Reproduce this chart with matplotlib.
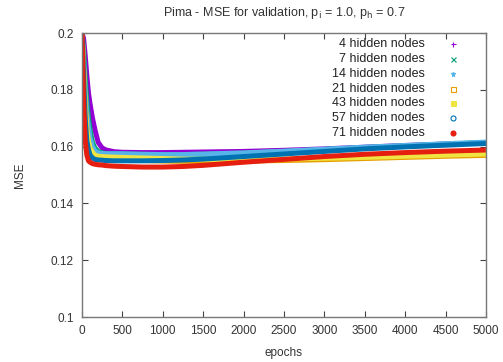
import matplotlib
matplotlib.use("Agg")
import matplotlib.pyplot as plt

plt.rcParams['font.family'] = ['Liberation Sans', 'DejaVu Sans']

epochs = [1, 20, 40, 60, 80, 100, 130, 160, 200, 250, 300, 400, 500, 750,
          1000, 1250, 1500, 2000, 2500, 3000, 3500, 4000, 4500, 5000]

mse_4 = [0.200, 0.198, 0.192, 0.185, 0.179, 0.175, 0.170, 0.166, 0.1615, 0.1595, 0.1588, 0.1582,
         0.1580, 0.1579, 0.1579, 0.1580, 0.1581, 0.1583, 0.1587, 0.1592, 0.1598, 0.1604, 0.1609, 0.1613]
mse_7 = [0.200, 0.194, 0.184, 0.176, 0.170, 0.166, 0.1615, 0.1595, 0.1583, 0.1578, 0.1576, 0.1575,
         0.1574, 0.1573, 0.1572, 0.1572, 0.1573, 0.1577, 0.1583, 0.1590, 0.1597, 0.1603, 0.1609, 0.1614]
mse_14 = [0.200, 0.191, 0.180, 0.172, 0.167, 0.163, 0.1600, 0.1585, 0.1578, 0.1576, 0.1575, 0.1575,
          0.1575, 0.1573, 0.1572, 0.1572, 0.1574, 0.1578, 0.1584, 0.1591, 0.1598, 0.1604, 0.1610, 0.1616]
mse_21 = [0.200, 0.188, 0.175, 0.166, 0.161, 0.1590, 0.1572, 0.1564, 0.1560, 0.1558, 0.1557, 0.1555,
          0.1553, 0.1551, 0.1549, 0.1548, 0.1548, 0.1549, 0.1551, 0.1554, 0.1558, 0.1562, 0.1566, 0.1569]
mse_43 = [0.200, 0.187, 0.174, 0.166, 0.162, 0.1595, 0.1580, 0.1570, 0.1566, 0.1565, 0.1564, 0.1563,
          0.1562, 0.1560, 0.1558, 0.1556, 0.1555, 0.1554, 0.1556, 0.1559, 0.1562, 0.1566, 0.1570, 0.1574]
mse_57 = [0.200, 0.185, 0.170, 0.162, 0.159, 0.1570, 0.1560, 0.1555, 0.1553, 0.1552, 0.1551, 0.1550,
          0.1550, 0.1550, 0.1551, 0.1553, 0.1556, 0.1565, 0.1574, 0.1583, 0.1592, 0.1599, 0.1605, 0.1611]
mse_71 = [0.200, 0.176, 0.162, 0.157, 0.155, 0.1545, 0.1540, 0.1538, 0.1536, 0.1535, 0.1533, 0.1531,
          0.1530, 0.1528, 0.1528, 0.1530, 0.1534, 0.1545, 0.1555, 0.1565, 0.1573, 0.1579, 0.1584, 0.1588]

labels = ["4 hidden nodes", "7 hidden nodes", "14 hidden nodes", "21 hidden nodes",
          "43 hidden nodes", "57 hidden nodes", "71 hidden nodes"]
series = [mse_4, mse_7, mse_14, mse_21, mse_43, mse_57, mse_71]
colors = ["#9400d3", "#009e73", "#56b4e9", "#e69f00", "#f0e442", "#0072b2", "#e51e10"]
markers = ["+", "x", "*", "s", "s", "o", "o"]
fills = ["full", "full", "full", "none", "full", "none", "full"]

xticks = [0, 500, 1000, 1500, 2000, 2500, 3000, 3500, 4000, 4500, 5000]
yticks = [0.1, 0.12, 0.14, 0.16, 0.18, 0.2]
ytick_labels = ["0.1", "0.12", "0.14", "0.16", "0.18", "0.2"]

fig = plt.figure(figsize=(5.03, 3.62), dpi=100)
ax = fig.add_axes([0.163, 0.1243, 0.803, 0.7845])

for vals, c in zip(series, colors):
    ax.plot(epochs, vals, color=c, lw=3.6, solid_capstyle='butt', zorder=2)

ax.set_xlim(0, 5000)
ax.set_ylim(0.1, 0.2)
ax.set_xticks(xticks)
ax.set_yticks(yticks)
ax.set_yticklabels(ytick_labels)
ax.tick_params(direction='in', top=True, right=True, length=4, width=0.8,
               labelsize=8.5, colors='#444444', labelcolor='#333333', pad=6)
for s in ax.spines.values():
    s.set_color('#777777')
    s.set_linewidth(1.0)

ax.set_xlabel("epochs", fontsize=8.5, color='#333333', labelpad=7)
ax.set_ylabel("MSE", fontsize=8.5, color='#333333', labelpad=18)
ax.set_title(r"Pima - MSE for validation, p$_\mathrm{i}$ = 1.0, p$_\mathrm{h}$ = 0.7",
             fontsize=9, color='#333333', pad=12)

# legend: right-aligned labels with the marker on the right (gnuplot style)
row0, step = 0.961, 0.0522
for i, (lab, c, m, f) in enumerate(zip(labels, colors, markers, fills)):
    yy = row0 - i * step
    ax.text(0.849, yy, lab, transform=ax.transAxes, ha='right', va='center',
            fontsize=9, color='#222222', zorder=5)
    ax.plot([0.918], [yy], transform=ax.transAxes, linestyle='none', marker=m,
            color=c, fillstyle=f, markersize=3.6, markeredgewidth=0.8, zorder=5,
            clip_on=False)

fig.savefig("out.png", dpi=100)
